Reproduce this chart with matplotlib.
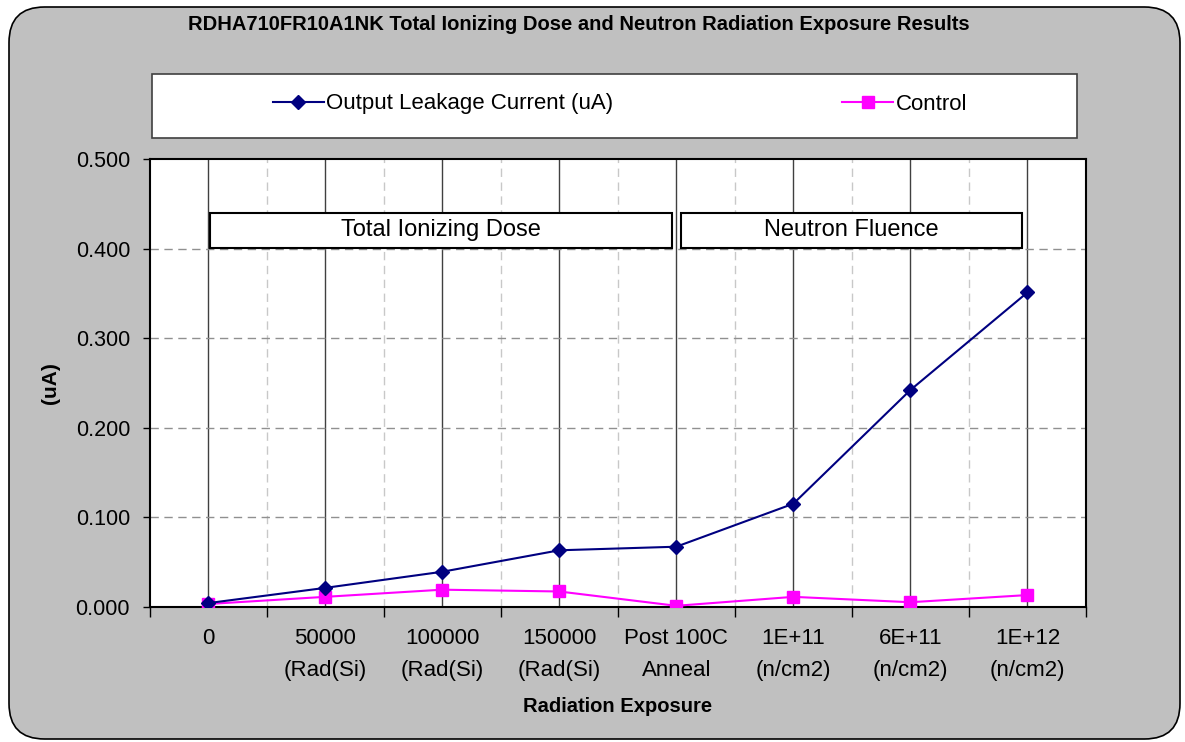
import matplotlib
matplotlib.use("Agg")
import matplotlib.pyplot as plt
from matplotlib.patches import FancyBboxPatch, Rectangle
import numpy as np

plt.rcParams['font.family'] = ['Liberation Sans', 'DejaVu Sans']

# data
categories = ['0', '50000\n(Rad(Si)', '100000\n(Rad(Si)', '150000\n(Rad(Si)',
              'Post 100C\nAnneal', '1E+11\n(n/cm2)', '6E+11\n(n/cm2)', '1E+12\n(n/cm2)']
leakage = [0.004, 0.021, 0.039, 0.063, 0.067, 0.115, 0.242, 0.351]
control = [0.003, 0.011, 0.019, 0.017, 0.001, 0.011, 0.005, 0.013]
y_ticks = [0.0, 0.1, 0.2, 0.3, 0.4, 0.5]

W, H = 1185, 742
fig = plt.figure(figsize=(W / 100, H / 100), dpi=100)
fig.patch.set_facecolor('white')

# grey rounded chart area
frame = FancyBboxPatch((9 / W, 3 / H), (W - 14) / W, (H - 10) / H,
                       boxstyle="round,pad=0,rounding_size=0.03",
                       transform=fig.transFigure, facecolor='#C0C0C0',
                       edgecolor='black', linewidth=1.2, mutation_aspect=W / H,
                       zorder=-10)
fig.patches.append(frame)

# legend box
fig.patches.append(Rectangle((152 / W, 1 - 138 / H), (1077 - 152) / W, 64 / H,
                             transform=fig.transFigure, facecolor='white',
                             edgecolor='#404040', lw=1.2, zorder=-5))

ax = fig.add_axes([149.5 / W, 1 - 606.7 / H, (1086 - 149.5) / W, (606.7 - 159) / H])
ax.set_facecolor('white')

x = np.arange(len(categories))
ax.set_xlim(-0.5, len(categories) - 0.5)
ax.set_ylim(0, 0.5)

# grid: dashed between categories, solid on categories, dashed horizontals
for b in np.arange(-0.5, len(categories) - 0.4, 1.0)[1:-1]:
    ax.axvline(b, color='#C8C8C8', lw=1, ls=(0, (6, 4)), zorder=1)
for c in x:
    ax.axvline(c, color='#404040', lw=1, zorder=1)
for yt in y_ticks[1:-1]:
    ax.axhline(yt, color='#909090', lw=1, ls=(0, (6, 4)), zorder=1)

ax.plot(x, leakage, color='#000080', marker='D', markersize=7, lw=1.5,
        label='Output Leakage Current (uA)', zorder=4)
ax.plot(x, control, color='#FF00FF', marker='s', markersize=8, lw=1.5,
        label='Control', zorder=3)

# section boxes
for x0, x1, txt in [(0.02, 3.96, 'Total Ionizing Dose'), (4.04, 6.95, 'Neutron Fluence')]:
    ax.add_patch(Rectangle((x0, 0.401), x1 - x0, 0.039, facecolor='white',
                           edgecolor='black', lw=1.5, zorder=5))
    ax.text((x0 + x1) / 2, 0.4205, txt, ha='center', va='center', fontsize=17, zorder=6)

ax.set_xticks(x)
ax.set_xticklabels(categories, fontsize=16, linespacing=1.7)
ax.set_xticks(np.arange(-0.5, len(categories), 1.0), minor=True)
ax.tick_params(axis='x', which='major', length=0, pad=15)
ax.tick_params(axis='x', which='minor', length=7, width=1, direction='out')
ax.set_yticks(y_ticks)
ax.set_yticklabels(['%.3f' % v for v in y_ticks], fontsize=15.5)
ax.tick_params(axis='y', length=5, width=1, direction='out', pad=9)

for s in ax.spines.values():
    s.set_linewidth(1.5)
    s.set_color('black')

ax.set_xlabel('Radiation Exposure', fontsize=14.5, fontweight='bold', labelpad=12)
ax.set_ylabel('(uA)', fontsize=15, fontweight='bold', labelpad=11)

fig.text(579 / W, 1 - 25 / H,
         'RDHA710FR10A1NK Total Ionizing Dose and Neutron Radiation Exposure Results',
         ha='center', va='center', fontsize=14.5, fontweight='bold')

fig.legend(loc='center', bbox_to_anchor=(620 / W, 1 - 104 / H), ncol=2,
           frameon=False, fontsize=16, handlelength=2.3, handletextpad=0.1,
           columnspacing=10.3)

fig.savefig('out.png', dpi=100, facecolor='white')
